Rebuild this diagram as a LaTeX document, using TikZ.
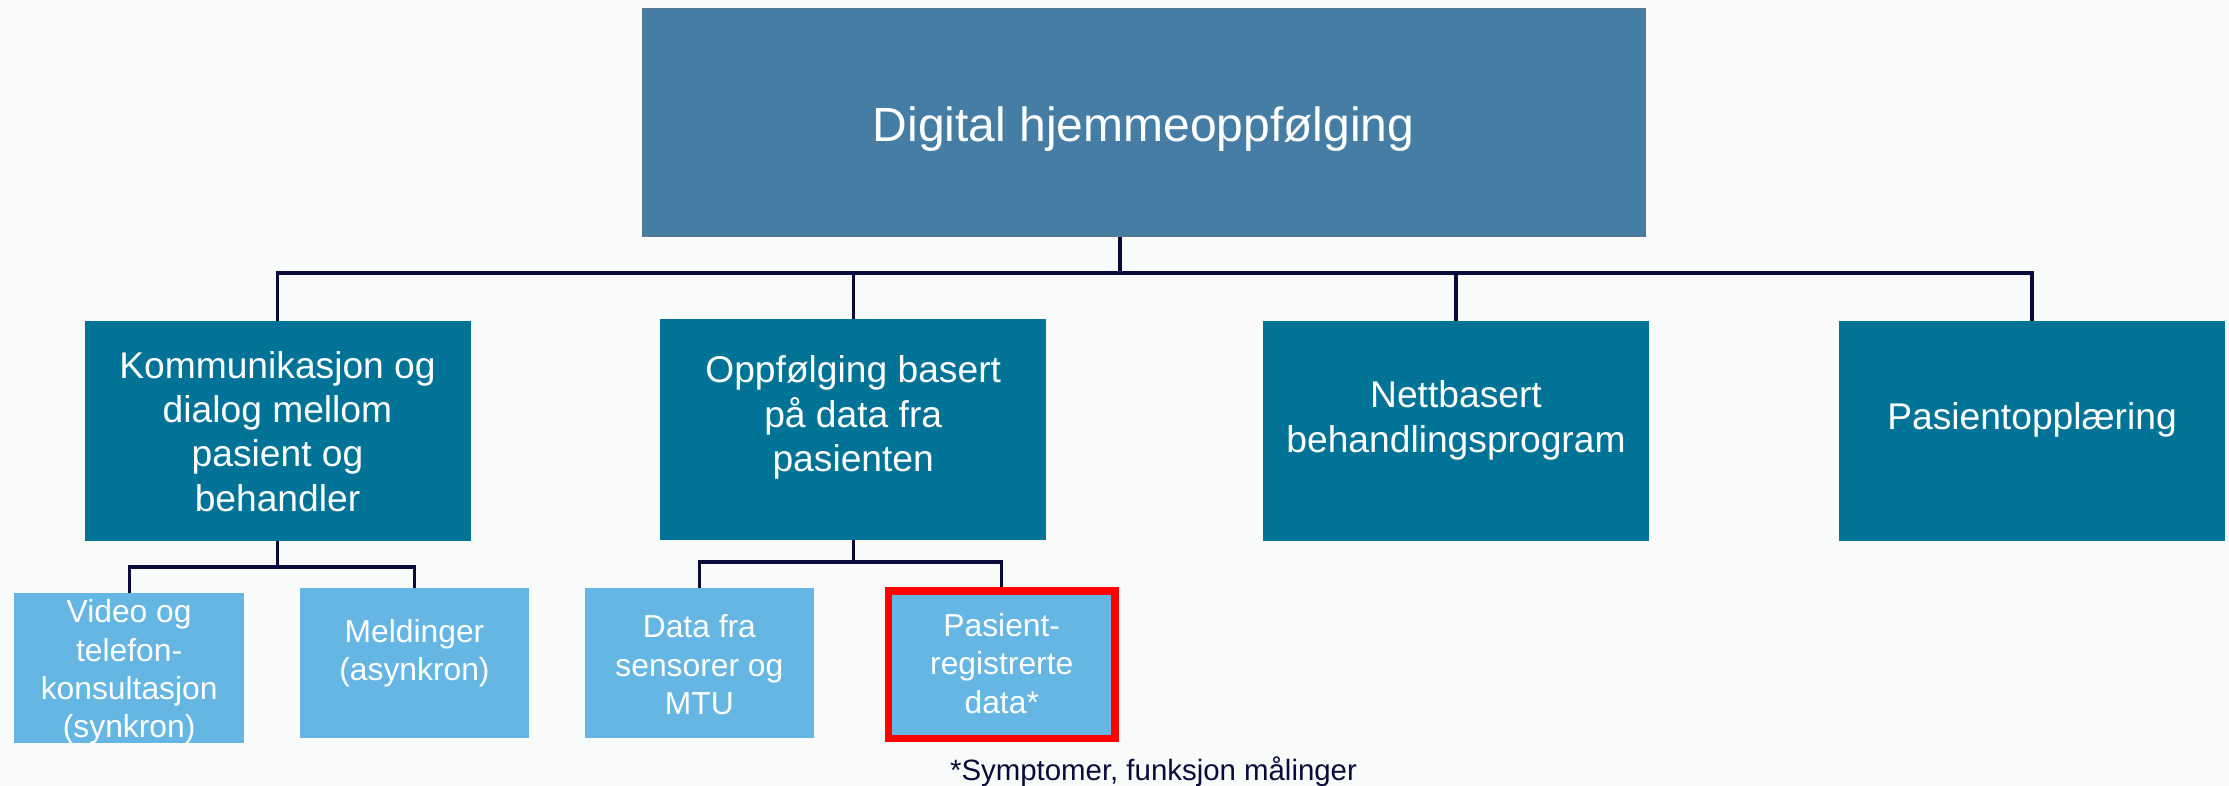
\documentclass[tikz,border=0pt]{standalone}
\usepackage{fontspec}
\setmainfont{Liberation Sans}
\definecolor{bg}{HTML}{F9FAFA}
\definecolor{topblue}{HTML}{457DA4}
\definecolor{topedge}{HTML}{5F7590}
\definecolor{tealbox}{HTML}{007396}
\definecolor{lightbox}{HTML}{66B6E4}
\definecolor{navy}{HTML}{0B0B3B}
\definecolor{alert}{HTML}{FF0000}

\begin{document}
\begin{tikzpicture}[x=0.5pt,y=-0.5pt,
  headbox/.style={fill=topblue,draw=topedge,line width=0.5pt,inner sep=0pt,outer sep=0pt,
    minimum width=501.5pt,minimum height=114pt},
  mainbox/.style={fill=tealbox,inner sep=0pt,outer sep=0pt,
    minimum width=193pt,minimum height=110pt},
  subbox/.style={fill=lightbox,inner sep=0pt,outer sep=0pt,
    minimum width=114.7pt,minimum height=75pt},
  hilite/.style={draw=alert,line width=3.9pt,outer sep=1.95pt,
    minimum width=113.25pt,minimum height=73.6pt},
  headtxt/.style={text=white,inner sep=0pt,align=center,font=\fontsize{24pt}{28pt}\selectfont},
  maintxt/.style={text=white,inner sep=0pt,align=center,font=\fontsize{18.6pt}{22.15pt}\selectfont},
  subtxt/.style={text=white,inner sep=0pt,align=center,font=\fontsize{15.9pt}{19.15pt}\selectfont},
  notetxt/.style={text=navy,inner sep=0pt,font=\fontsize{14.7pt}{17pt}\selectfont},
  link/.style={draw=navy,line width=1.6pt}]

% canvas
\fill[bg] (0,0) rectangle (2229,786);
\useasboundingbox (0,0) rectangle (2229,786);

% top level
\node[headbox] (head) at (1143.5,123) {};
\node[headtxt] (headlbl) at (1143.5,128.7) {Digital hjemmeoppfølging};

% second level
\node[mainbox] (kom)  at (277.5,430.75) {};
\node[mainbox] (opp)  at (853.2,429.5) {};
\node[mainbox] (nett) at (1456,431) {};
\node[mainbox] (pas)  at (2032,431) {};

\node[maintxt] (komlbl)  at (277.5,431.3) {Kommunikasjon og\\dialog mellom\\pasient og\\behandler};
\node[maintxt] (opplbl)  at (853.2,417.6) {Oppfølging basert\\på data fra\\pasienten};
\node[maintxt] (nettlbl) at (1456,420.3) {Nettbasert\\behandlingsprogram};
\node[maintxt] (paslbl)  at (2032,419.4) {Pasientopplæring};

% third level
\node[subbox] (vid) at (129.15,668.3) {};
\node[subbox] (mel) at (414.5,662.85) {};
\node[subbox] (dat) at (699.4,662.85) {};
\node[subbox,hilite] (preg) at (1001.75,664.9) {};

\node[subtxt] (vidlbl)  at (129.15,672) {Video og\\telefon-\\konsultasjon\\(synkron)};
\node[subtxt] (mellbl)  at (414.5,653.4) {Meldinger\\(asynkron)};
\node[subtxt] (datlbl)  at (699.4,664.7) {Data fra\\sensorer og\\MTU};
\node[subtxt] (preglbl) at (1001.75,663.4) {Pasient-\\registrerte\\data*};

% footnote
\node[notetxt,anchor=base] (note) at (1153.5,780) {*Symptomer, funksjon målinger};

% connectors: top level to second level
\coordinate (bus) at (1120,273);
\draw[link] (head.south -| bus) -- (bus);
\draw[link] (kom.north) -- (kom.north |- bus) -- (pas.north |- bus) -- (pas.north);
\draw[link] (opp.north) -- (opp.north |- bus);
\draw[link] (nett.north) -- (nett.north |- bus);

% connectors: second level to third level
\coordinate (kbus) at (277.5,567);
\draw[link] (kom.south) -- (kbus);
\draw[link] (vid.north) -- (vid.north |- kbus) -- (mel.north |- kbus) -- (mel.north);

\coordinate (obus) at (853.2,562);
\draw[link] (opp.south) -- (obus);
\draw[link] (dat.north) -- (dat.north |- obus) -- (preg.north |- obus) -- (preg.north);
\end{tikzpicture}
\end{document}
